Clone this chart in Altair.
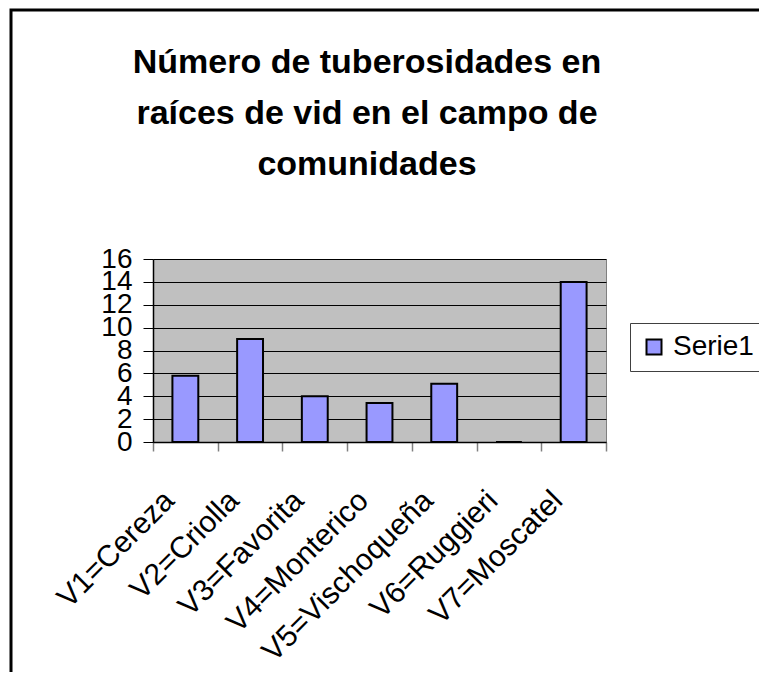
import altair as alt
import pandas as pd

categories = ["V1=Cereza", "V2=Criolla", "V3=Favorita", "V4=Monterico",
              "V5=Vischoqueña", "V6=Ruggieri", "V7=Moscatel"]
values = [5.8, 9.0, 4.0, 3.4, 5.1, 0.0, 14.0]
series_name = "Serie1"
y_ticks = [0, 2, 4, 6, 8, 10, 12, 14, 16]
title_lines = ["Número de tuberosidades en", "raíces de vid en el campo de", "comunidades"]

df = pd.DataFrame({"Variedad": categories, "Tuberosidades": values,
                   "Serie": [series_name] * len(categories)})

FONT = "Liberation Sans"

bars = alt.Chart(df).mark_bar(stroke="black", strokeWidth=2,
                              width=alt.RelativeBandSize(0.4)).encode(
    x=alt.X("Variedad:N", sort=categories, title=None,
            scale=alt.Scale(paddingInner=0, paddingOuter=0),
            axis=alt.Axis(labelAngle=-45, labelFontSize=30, labelFont=FONT, labelColor="black",
                          labelBaseline="alphabetic", labelAlign="right",
                          labelPadding=51, labelOffset=-10,
                          tickBand="extent", tickSize=9, tickColor="#808080", tickWidth=1.5,
                          domainColor="black", domainWidth=1.5,
                          labelOverlap=False, labelLimit=400, grid=False)),
    y=alt.Y("Tuberosidades:Q", title=None, scale=alt.Scale(domain=[0, 16], nice=False),
            axis=alt.Axis(values=y_ticks, labelFontSize=28, labelFont=FONT, labelColor="black",
                          tickSize=10, tickColor="black", domainColor="black", domainWidth=1.5,
                          labelPadding=11, labelOverlap=False, grid=True,
                          gridColor="black", gridOpacity=1, gridWidth=1)),
    color=alt.Color("Serie:N", scale=alt.Scale(range=["#9999FF"]),
                    legend=alt.Legend(title=None, orient="none", legendX=477, legendY=64,
                                      fillColor="white", strokeColor="#404040", padding=10,
                                      labelFontSize=28, labelFont=FONT, labelColor="black",
                                      symbolType="square", symbolSize=225,
                                      symbolStrokeColor="black", symbolStrokeWidth=2,
                                      symbolOpacity=1, labelOffset=5))
)

title = alt.Chart(alt.Data(values=[{}])).mark_text(
    font=FONT, fontSize=34, fontWeight="bold", color="black", align="center",
    baseline="alphabetic", lineHeight=51
).encode(x=alt.value(214), y=alt.value(-186), text=alt.value(title_lines))

border = alt.Chart(alt.Data(values=[{}])).mark_rect(
    fillOpacity=0, stroke="black", strokeWidth=3
).encode(x=alt.value(-142), x2=alt.value(700), y=alt.value(-249), y2=alt.value(500))

chart = alt.layer(bars, title, border).properties(
    width=453, height=183,
    autosize=alt.AutoSizeParams(type="none"),
    padding={"left": 145, "top": 251, "right": 153, "bottom": 230},
).configure(background="white").configure_view(fill="#C0C0C0", stroke="#808080")

chart.save("out.html", embed_options={"renderer": "svg", "actions": False})
